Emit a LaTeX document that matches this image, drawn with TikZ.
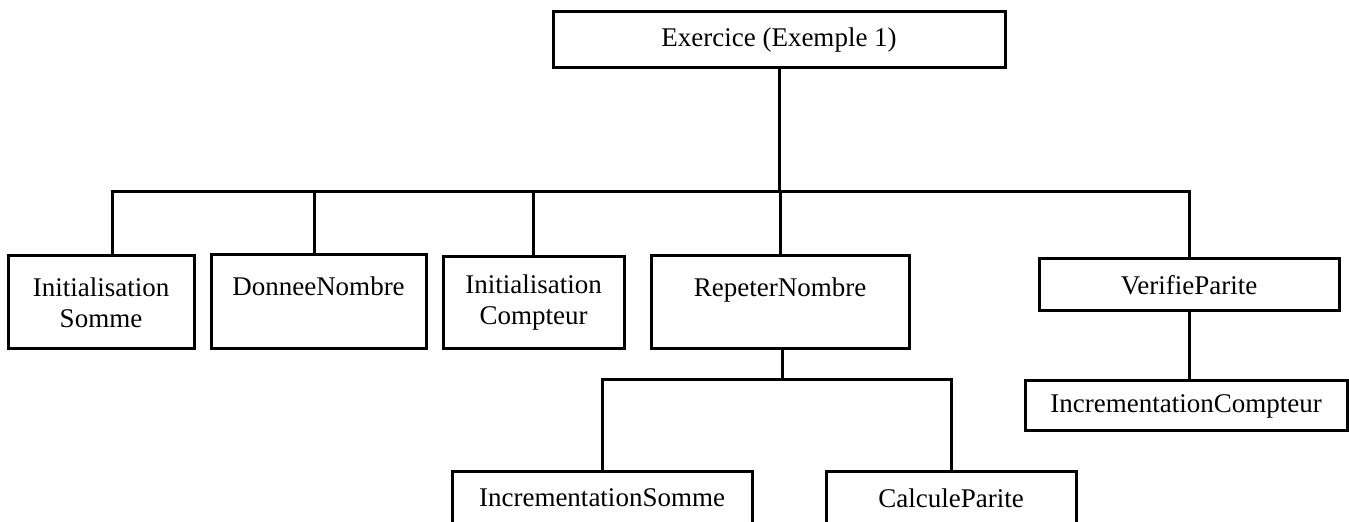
\documentclass[tikz,border=0pt]{standalone}
\usepackage{fontspec}
\setmainfont{Liberation Serif}
\usetikzlibrary{positioning, calc}
\tikzset{
    module/.style={
        rectangle,
        draw=black,
        line width=1.5pt,
        inner sep=0pt,
        align=center,
        text centered,
        font=\fontsize{13.5}{15.5}\selectfont
    },
    link/.style={
        line width=1.5pt,
        color=black
    }
}
\begin{document}
\begin{tikzpicture}[x=0.5pt, y=-0.5pt]
    \useasboundingbox (0,0) rectangle (1349,522);

    % Define main module nodes
    \node (exercice) [module, minimum width=226pt, minimum height=28pt] at (779,40) {Exercice (Exemple 1)};
    \node (initsomme) [module, minimum width=93pt, minimum height=46.5pt] at (101,302.5) {Initialisation\\Somme};
    \node (donnee) [module, minimum width=107.5pt, minimum height=47pt] at (318.5,302) {DonneeNombre\\\mbox{}};
    \node (initcompteur) [module, minimum width=90.5pt, minimum height=46pt] at (533.5,303) {Initialisation\\Compteur};
    \node (repeter) [module, minimum width=129pt, minimum height=46.5pt] at (780,302.5) {RepeterNombre\\\mbox{}};
    \node (verifie) [module, minimum width=150pt, minimum height=26pt] at (1189,285) {VerifieParite};
    \node (inccompteur) [module, minimum width=161pt, minimum height=25pt] at (1186,406) {IncrementationCompteur};
    \node (incsomme) [module, minimum width=150pt, minimum height=26pt] at (602,498) {IncrementationSomme};
    \node (calcule) [module, minimum width=125pt, minimum height=26pt] at (951,498) {CalculeParite};

    % Junction points
    \coordinate (hub) at (exercice.south |- 0,192);
    \coordinate (subhub) at ([xshift=1pt]repeter.south |- 0,380);

    % Draw main links
    \draw [link] (exercice.south) -- (hub);
    \draw [link] ([xshift=5.5pt]initsomme.north) |- (hub);
    \draw [link] ([xshift=-2pt]donnee.north) |- (hub);
    \draw [link] (initcompteur.north) |- (hub);
    \draw [link] (repeter.north) |- (hub);
    \draw [link] (verifie.north) |- (hub);
    \draw [link] (verifie.south) -- (verifie.south |- inccompteur.north);

    % Links under RepeterNombre
    \draw [link] ([xshift=1pt]repeter.south) -- (subhub);
    \draw [link] (incsomme.north) |- (subhub);
    \draw [link] (calcule.north) |- (subhub);

\end{tikzpicture}
\end{document}
